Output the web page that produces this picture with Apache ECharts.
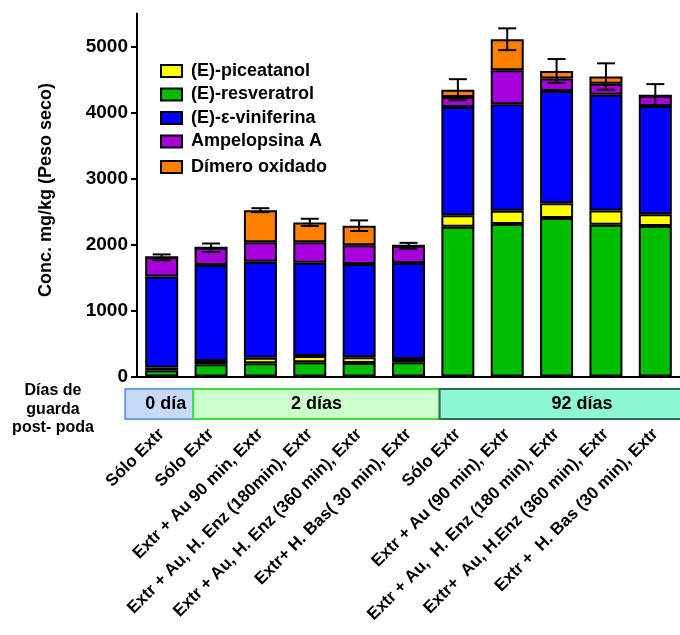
<!DOCTYPE html>
<html>
<head>
<meta charset="utf-8">
<script src="https://cdn.jsdelivr.net/npm/echarts@6/dist/echarts.min.js"></script>
<style>
  html, body { margin: 0; padding: 0; background: #fff; }
  #chart { width: 680px; height: 635px; }
</style>
</head>
<body>
<div id="chart"></div>
<script>
// Treatments (one bar each)
const categories = [
  'Sólo Extr',
  'Sólo Extr',
  'Extr + Au 90 min, Extr',
  'Extr + Au, H. Enz (180min), Extr',
  'Extr + Au, H. Enz (360 min), Extr',
  'Extr+ H. Bas( 30 min), Extr',
  'Sólo Extr',
  'Extr + Au (90 min), Extr',
  'Extr + Au,  H. Enz (180 min), Extr',
  'Extr+  Au, H.Enz (360 min), Extr',
  'Extr +  H. Bas (30 min), Extr'
];

// Concentrations, mg/kg dry weight (stacked bottom to top)
const resveratrol = [95, 185, 200, 215, 205, 215, 2270, 2310, 2400, 2300, 2280];
const piceatanol  = [40, 50, 85, 95, 85, 50, 175, 200, 225, 215, 180];
const viniferina  = [1380, 1455, 1455, 1415, 1415, 1455, 1640, 1615, 1700, 1755, 1640];
const ampelopsina = [290, 260, 295, 310, 285, 260, 150, 515, 190, 165, 155];
const dimero      = [0, 0, 485, 300, 295, 0, 110, 470, 115, 110, 0];
// Error of the total per bar
const errors      = [45, 65, 30, 55, 80, 45, 160, 165, 180, 200, 175];

const yTicks = [0, 1000, 2000, 3000, 4000, 5000];

// Storage-time groups below the axis (edges in category units)
const storageGroups = ['0 día', '2 días', '92 días'];
const groupEdges = [-0.74, 0.64, 5.63, 11.4];
const storageTitle = 'Días de\nguarda\npost- poda';

const FONT = '"Liberation Sans", Arial, Helvetica, sans-serif';
const chart = echarts.init(document.getElementById('chart'), null, { renderer: 'canvas' });

const totals = categories.map((_, i) =>
  resveratrol[i] + piceatanol[i] + viniferina[i] + ampelopsina[i] + dimero[i]);
const errData = categories.map((_, i) => [i, totals[i], errors[i]]);

function barSeries(name, data, color) {
  return {
    name: name,
    type: 'bar',
    stack: 'total',
    data: data,
    barWidth: 33,
    itemStyle: { color: color, borderColor: '#000', borderWidth: 2 },
    emphasis: { disabled: true },
    animation: false
  };
}

const legendText = {
  fontFamily: FONT, fontWeight: 'bold', fontSize: 18, color: '#000',
  lineHeight: 18, padding: [0, 0, 0, 4]
};

chart.setOption({
  backgroundColor: '#fff',
  animation: false,
  grid: { left: 137, top: 13.5, width: 544, height: 363, containLabel: false },
  legend: [
    {
      data: ['(E)-piceatanol', '(E)-resveratrol', '(E)-ε-viniferina', 'Ampelopsina A'],
      orient: 'vertical', left: 155, top: 57,
      itemWidth: 21, itemHeight: 12, itemGap: 5.5, icon: 'rect',
      textStyle: legendText, selectedMode: false
    },
    {
      data: ['Dímero oxidado'],
      orient: 'vertical', left: 155, top: 153,
      itemWidth: 21, itemHeight: 12, icon: 'rect',
      textStyle: legendText, selectedMode: false
    }
  ],
  xAxis: {
    type: 'category',
    data: categories,
    axisLine: { lineStyle: { color: '#000', width: 2 } },
    axisTick: { alignWithLabel: true, length: 5, lineStyle: { color: '#000', width: 1.5 } },
    axisLabel: {
      rotate: 45, interval: 0, margin: 55,
      fontFamily: FONT, fontWeight: 'bold', fontSize: 17, color: '#000'
    },
    splitLine: { show: false }
  },
  yAxis: {
    type: 'value',
    min: 0, max: 5500, interval: 1000,
    name: 'Conc. mg/kg (Peso seco)',
    nameLocation: 'middle', nameGap: 82, nameRotate: 90,
    nameTextStyle: { fontFamily: FONT, fontWeight: 'bold', fontSize: 18, color: '#000', padding: [0, 0, 0, 10] },
    axisLine: { show: true, lineStyle: { color: '#000', width: 2 } },
    axisTick: { show: true, length: 6, customValues: yTicks, lineStyle: { color: '#000', width: 2 } },
    axisLabel: {
      customValues: yTicks, margin: 9,
      formatter: v => String(v),
      fontFamily: FONT, fontWeight: 'bold', fontSize: 19, color: '#000'
    },
    splitLine: { show: false }
  },
  series: [
    barSeries('(E)-resveratrol', resveratrol, '#00BE00'),
    barSeries('(E)-piceatanol', piceatanol, '#FFFF00'),
    barSeries('(E)-ε-viniferina', viniferina, '#0000FF'),
    barSeries('Ampelopsina A', ampelopsina, '#A800DC'),
    barSeries('Dímero oxidado', dimero, '#FF8000'),
    {
      type: 'custom',
      name: 'error',
      data: errData,
      encode: { x: 0, y: 1 },
      z: 10,
      silent: true,
      renderItem: function (params, api) {
        const i = api.value(0), m = api.value(1), e = api.value(2);
        const top = api.coord([i, m + e]);
        const bot = api.coord([i, m - e]);
        const w = 9;
        const st = { stroke: '#000', lineWidth: 2 };
        return {
          type: 'group',
          children: [
            { type: 'line', shape: { x1: top[0], y1: top[1], x2: bot[0], y2: bot[1] }, style: st },
            { type: 'line', shape: { x1: top[0] - w, y1: top[1], x2: top[0] + w, y2: top[1] }, style: st },
            { type: 'line', shape: { x1: bot[0] - w, y1: bot[1], x2: bot[0] + w, y2: bot[1] }, style: st }
          ]
        };
      }
    }
  ]
});

// Storage-time boxes placed from the category axis
const x0 = chart.convertToPixel({ xAxisIndex: 0 }, 0);
const band = chart.convertToPixel({ xAxisIndex: 0 }, 1) - x0;
const yZero = chart.convertToPixel({ yAxisIndex: 0 }, 0);
const edgePx = groupEdges.map(f => x0 + f * band);
const boxTop = yZero + 12.5, boxH = 30;
const groupFill = ['#C6DAF5', '#CCFFCC', '#8CF7D2'];
const groupStroke = ['#6FA0E0', '#3CE03C', '#2E6E50'];

const graphics = [];
storageGroups.forEach((label, g) => {
  const xa = edgePx[g], xb = edgePx[g + 1];
  graphics.push({
    type: 'rect', z: 5,
    shape: { x: xa, y: boxTop, width: xb - xa, height: boxH },
    style: { fill: groupFill[g], stroke: groupStroke[g], lineWidth: 2 }
  });
});
storageGroups.forEach((label, g) => {
  const xa = edgePx[g], xb = edgePx[g + 1];
  const cx = g === 0 ? xb - 7 : (xa + xb) / 2;
  graphics.push({
    type: 'text', z: 6,
    x: cx, y: boxTop + boxH / 2,
    style: {
      text: label, fill: '#000', font: 'bold 18px ' + FONT,
      textAlign: g === 0 ? 'right' : 'center', textVerticalAlign: 'middle'
    }
  });
});
graphics.push({
  type: 'text', z: 6,
  x: 53, y: yZero + 33,
  style: {
    text: storageTitle, fill: '#000', font: 'bold 16px ' + FONT,
    textAlign: 'center', textVerticalAlign: 'middle', lineHeight: 18.5
  }
});
chart.setOption({ graphic: graphics });
</script>
</body>
</html>
